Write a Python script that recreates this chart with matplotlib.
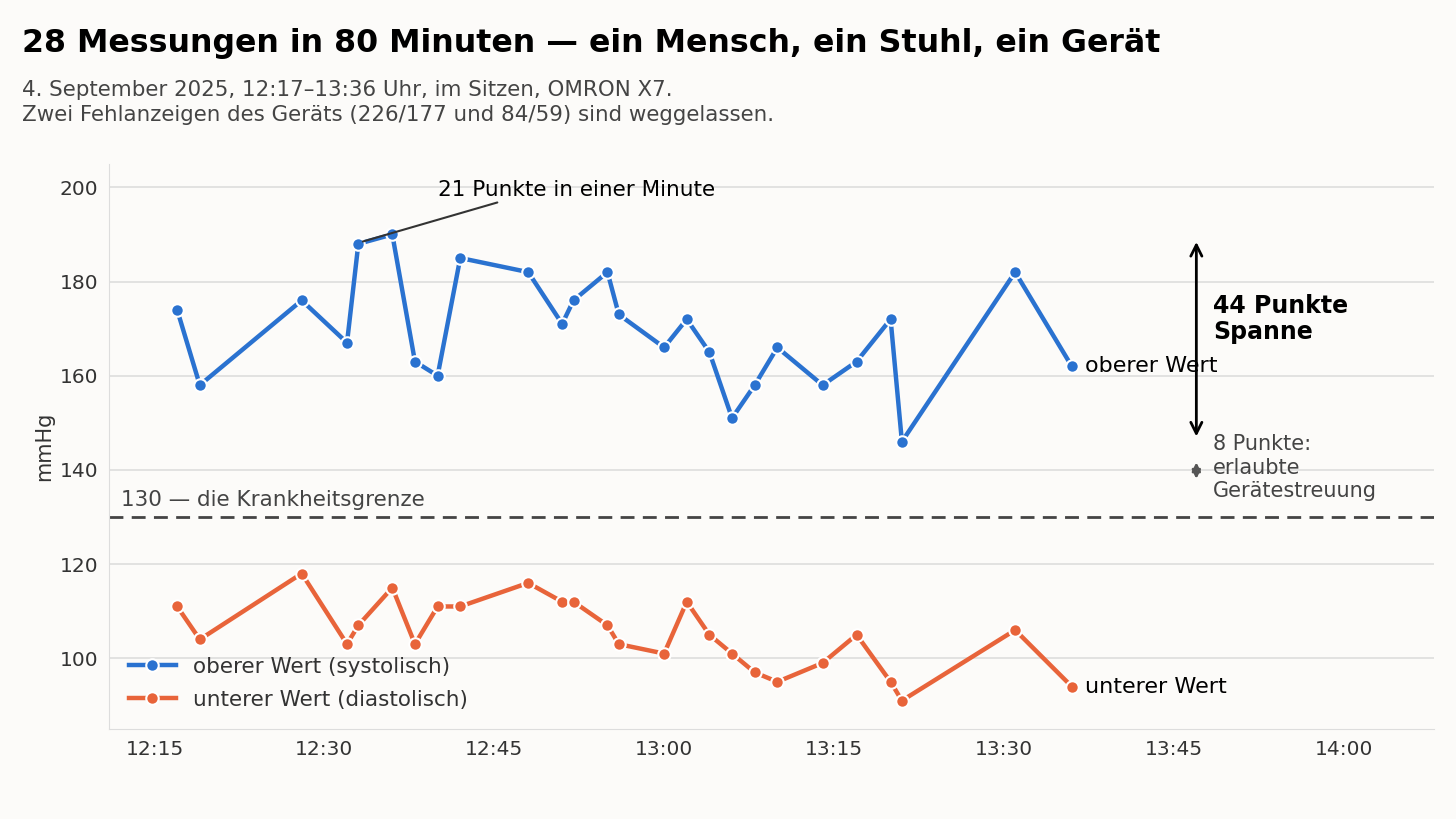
import matplotlib
matplotlib.use("Agg")
import matplotlib.pyplot as plt
import matplotlib.dates as mdates
from datetime import datetime

times = ["12:17", "12:19", "12:28", "12:32", "12:33", "12:36", "12:38", "12:40", "12:42",
         "12:48", "12:51", "12:52", "12:55", "12:56", "13:00", "13:02", "13:04", "13:06",
         "13:08", "13:10", "13:14", "13:17", "13:20", "13:21", "13:31", "13:36"]
sys_vals = [174, 158, 176, 167, 188, 190, 163, 160, 185, 182, 171, 176, 182, 173, 166, 172,
            165, 151, 158, 166, 158, 163, 172, 146, 182, 162]
dia_vals = [111, 104, 118, 103, 107, 115, 103, 111, 111, 116, 112, 112, 107, 103, 101, 112,
            105, 101, 97, 95, 99, 105, 95, 91, 106, 94]

BLUE = "#2a72d0"
ORANGE = "#e8643a"
BG = "#fcfbf9"


def t(s):
    h, m = s.split(":")
    return datetime(2025, 9, 4, int(h), int(m))


x = [t(s) for s in times]
one_min = t("12:01") - t("12:00")

fig = plt.figure(figsize=(14.56, 8.19), dpi=100)
fig.patch.set_facecolor(BG)
ax = fig.add_axes([0.075, 0.11, 0.91, 0.69])
ax.set_facecolor(BG)

ax.plot(x, sys_vals, color=BLUE, lw=3.2, marker="o", ms=9, mec="white", mew=1.5,
        label="oberer Wert (systolisch)", zorder=3)
ax.plot(x, dia_vals, color=ORANGE, lw=3.2, marker="o", ms=9, mec="white", mew=1.5,
        label="unterer Wert (diastolisch)", zorder=3)

ax.axhline(130, color="#444", lw=2, ls=(0, (5, 3)), zorder=2)
ax.text(t("12:12"), 131.5, "130 — die Krankheitsgrenze", fontsize=15.5, color="#444", va="bottom")

ax.text(x[-1] + one_min * 1.2, sys_vals[-1], "oberer Wert", fontsize=16, va="center")
ax.text(x[-1] + one_min * 1.2, dia_vals[-1], "unterer Wert", fontsize=16, va="center")

ax.annotate("21 Punkte in einer Minute", xy=(t("12:33") + one_min * 0.4, 188.5),
            xytext=(t("12:40"), 199.5), fontsize=15.5, va="center",
            arrowprops=dict(arrowstyle="-", color="#333", lw=1.5, shrinkA=0, shrinkB=0,
                            relpos=(0.25, 0)))

xa = t("13:47")
ax.annotate("", xy=(xa, 189), xytext=(xa, 146.5),
            arrowprops=dict(arrowstyle="<->", color="black", lw=2, mutation_scale=20))
ax.annotate("", xy=(xa, 142.2), xytext=(xa, 137.5),
            arrowprops=dict(arrowstyle="<->", color="#555", lw=2, mutation_scale=12))
xt = t("13:48") + one_min * 0.5
ax.text(xt, 172, "44 Punkte\nSpanne", fontsize=17, fontweight="bold", va="center", linespacing=1.1)
ax.text(xt, 140.5, "8 Punkte:\nerlaubte\nGerätestreuung", fontsize=15, color="#444",
        va="center", linespacing=1.2)

ax.set_xlim(t("12:11"), t("14:08"))
ax.set_ylim(85, 205)
ax.set_yticks([100, 120, 140, 160, 180, 200])
ax.xaxis.set_major_locator(mdates.MinuteLocator(byminute=[0, 15, 30, 45]))
ax.xaxis.set_major_formatter(mdates.DateFormatter("%H:%M"))
ax.tick_params(labelsize=14.5, colors="#333", length=0, pad=8)
ax.grid(axis="y", color="#dddddd", lw=1.2)
ax.set_ylabel("mmHg", fontsize=15, color="#333")
for s in ["top", "right"]:
    ax.spines[s].set_visible(False)
for s in ["left", "bottom"]:
    ax.spines[s].set_color("#dddddd")

ax.legend(loc="lower left", bbox_to_anchor=(0.0, 0.0), frameon=False, fontsize=15.5,
          handlelength=2.2, labelspacing=0.6, labelcolor="#333")

fig.text(0.015, 0.947, "28 Messungen in 80 Minuten — ein Mensch, ein Stuhl, ein Gerät",
         fontsize=22.8, fontweight="bold", va="center")
fig.text(0.015, 0.875, "4. September 2025, 12:17–13:36 Uhr, im Sitzen, OMRON X7.\n"
         "Zwei Fehlanzeigen des Geräts (226/177 und 84/59) sind weggelassen.",
         fontsize=15.4, color="#444", va="center", linespacing=1.35)

fig.savefig("out.png", dpi=100, facecolor=BG)
